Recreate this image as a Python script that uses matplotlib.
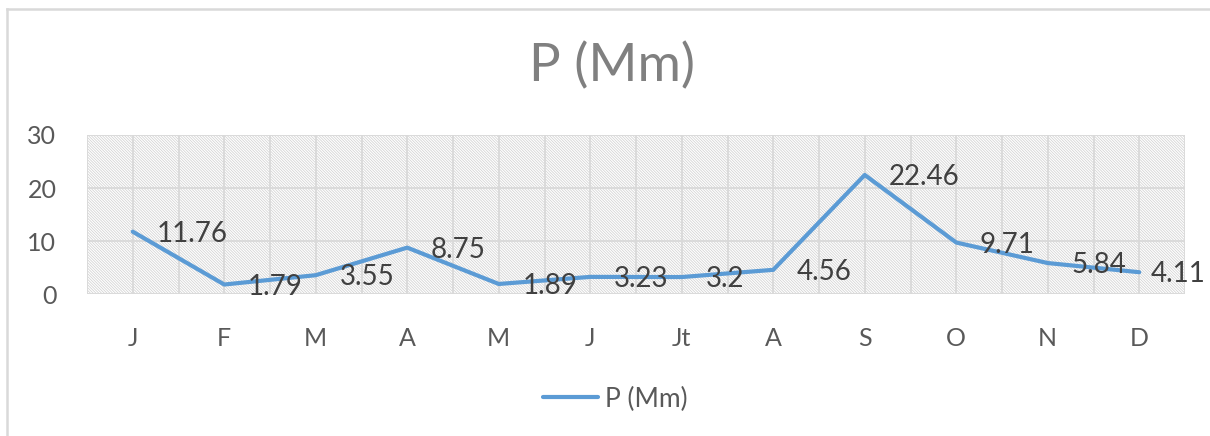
import matplotlib
matplotlib.use("Agg")
import matplotlib.pyplot as plt
from matplotlib.patches import Rectangle
from matplotlib.lines import Line2D
import numpy as np

months = ["J", "F", "M", "A", "M", "J", "Jt", "A", "S", "O", "N", "D"]
precip = [11.76, 1.79, 3.55, 8.75, 1.89, 3.23, 3.2, 4.56, 22.46, 9.71, 5.84, 4.11]
y_ticks = [0, 10, 20, 30]
series_name = "P (Mm)"

plt.rcParams["font.family"] = ["Lato", "DejaVu Sans"]
plt.rcParams["hatch.linewidth"] = 0.55

W, H = 1210, 436
fig = plt.figure(figsize=(W / 100, H / 100), dpi=100)

# chart frame (left and top edges)
fig.add_artist(Line2D([7 / W, 7 / W], [0, 1 - 9 / H], transform=fig.transFigure,
                      color="#d9d9d9", lw=1.8))
fig.add_artist(Line2D([7 / W, 1], [1 - 9 / H, 1 - 9 / H], transform=fig.transFigure,
                      color="#d9d9d9", lw=1.8))

ax = fig.add_axes([87 / W, (H - 294) / H, (1185 - 87) / W, (294 - 135) / H])
x = np.arange(len(months))
ax.set_xlim(-0.5, len(months) - 0.5)
ax.set_ylim(0, 30)

# patterned plot area
ax.add_patch(Rectangle((0, 0), 1, 1, transform=ax.transAxes, facecolor="white",
                       edgecolor="#d2d2d2", hatch="\\" * 12, lw=0, zorder=0))

for xv in np.arange(-0.5, len(months), 0.5):
    ax.axvline(xv, color="#d9d9d9", lw=1.3, zorder=1)
for yv in y_ticks:
    ax.axhline(yv, color="#d9d9d9", lw=1.3, zorder=1)

ax.plot(x, precip, color="#5b9bd5", lw=3, solid_capstyle="round",
        solid_joinstyle="round", zorder=3, label=series_name)

# value labels to the right of each point; the last one is pulled in to fit
for i, (xi, yi) in enumerate(zip(x, precip)):
    dx = 8 if i == len(precip) - 1 else 17
    ax.annotate(f"{yi:g}", (xi, yi), xytext=(dx, -1.5), textcoords="offset points",
                ha="left", va="center", fontsize=20, color="#404040", zorder=4,
                annotation_clip=False)

for s in ax.spines.values():
    s.set_visible(False)
ax.set_xticks(x)
ax.set_xticklabels(months)
ax.set_yticks(y_ticks)
ax.tick_params(axis="both", length=0, labelsize=18, colors="#595959")
ax.tick_params(axis="x", pad=24)
ax.tick_params(axis="y", pad=22)

fig.text(612 / W, 1 - 66 / H, series_name, ha="center", va="center",
         fontsize=38, color="#808080")

fig.legend(loc="center", bbox_to_anchor=(615 / W, 1 - 399 / H), frameon=False,
           fontsize=19, labelcolor="#595959", handlelength=2.1, handletextpad=0.25)

fig.savefig("out.png", dpi=100)
